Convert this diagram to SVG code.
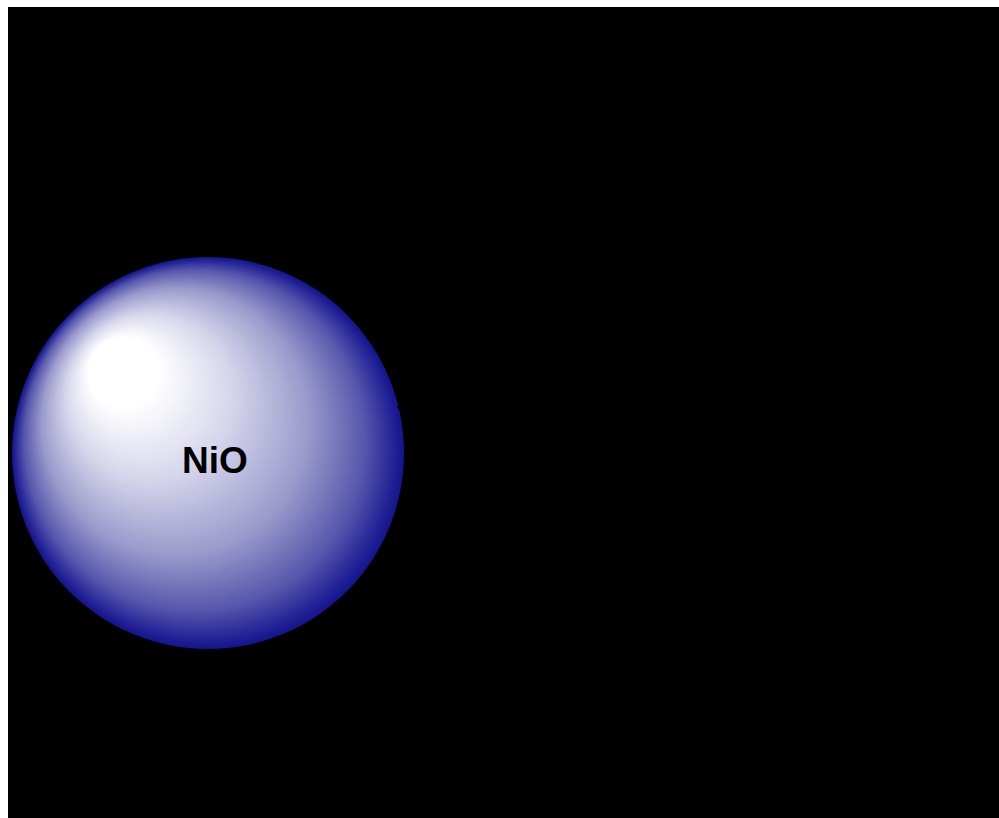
<svg xmlns="http://www.w3.org/2000/svg" width="999" height="818" viewBox="0 0 999 818">
<style>
.label{font-family:"Liberation Sans",Arial,sans-serif;font-weight:bold;font-size:37px;fill:#000;}
</style>
<defs>
<radialGradient id="sphereGrad" gradientUnits="userSpaceOnUse" cx="208" cy="453" r="196" fx="105" fy="355">
<stop offset="0" stop-color="#ffffff"/>
<stop offset="0.18" stop-color="#ffffff"/>
<stop offset="0.42" stop-color="#d6d6ec"/>
<stop offset="0.68" stop-color="#9a9acc"/>
<stop offset="0.87" stop-color="#5656ac"/>
<stop offset="0.96" stop-color="#262698"/>
<stop offset="1" stop-color="#14148c"/>
</radialGradient>
</defs>
<rect x="0" y="0" width="999" height="818" fill="#ffffff"/>
<rect x="8" y="7" width="991" height="811" fill="#000000"/>
<g id="node-nio">
<circle cx="208" cy="453" r="196" fill="url(#sphereGrad)"/>
<polygon points="406,397 397,407 399,410 406,413" fill="#000000"/>
<text class="label" x="215" y="473" text-anchor="middle">NiO</text>
</g>
<g id="connectors"></g>
</svg>
